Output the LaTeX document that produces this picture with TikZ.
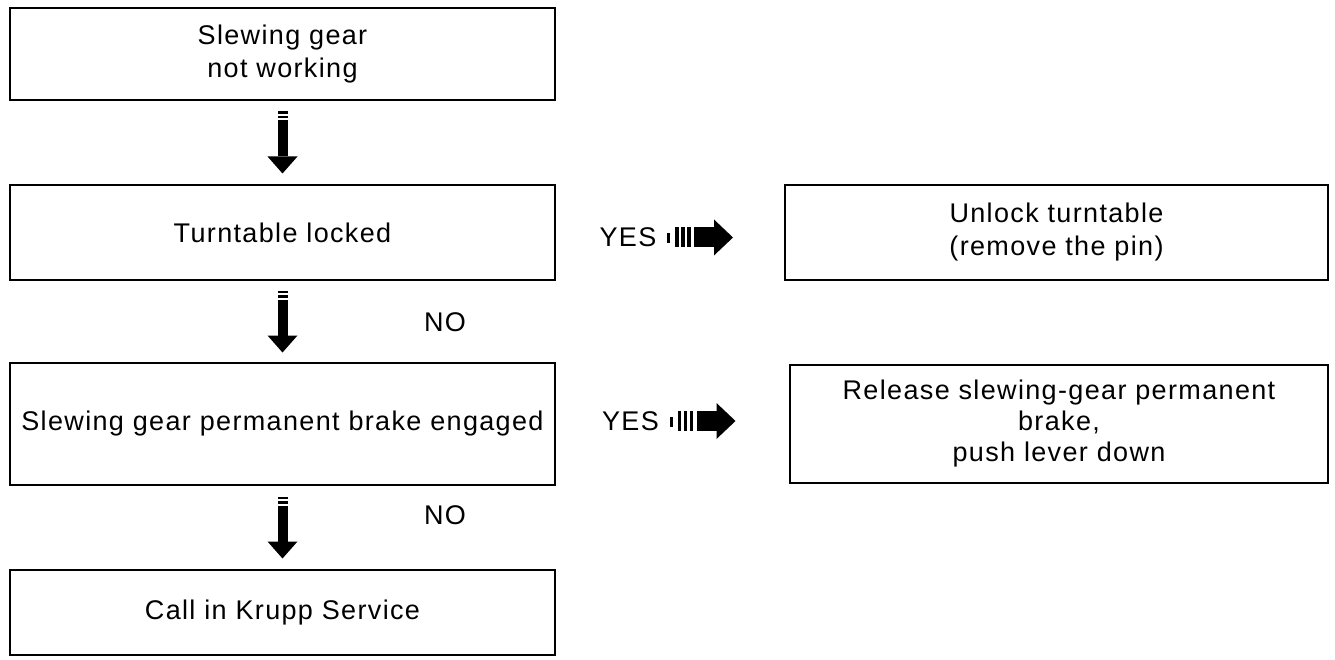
\documentclass[tikz,border=0pt]{standalone}
\usepackage{fontspec}
\setmainfont{Liberation Sans}[LetterSpace=5]
\usetikzlibrary{calc}

% striped block arrow pointing down, centred between two boxes
\newcommand\downblock[2]{%
  \begin{scope}[shift={($(#1.south)!0.5!(#2.north)$)}]
    \fill (-5,-31) rectangle (5,-28.5);
    \fill (-5,-26.5) rectangle (5,-24);
    \fill (-5,-22) rectangle (5,14);
    \fill (-15,14) -- (15,14) -- (0,31) -- cycle;
  \end{scope}}

% "YES" with a striped block arrow pointing right
\newcommand\yesblock[3]{%
  \begin{scope}[shift={($(#1.east)!0.5!(#2.west)+(0,#3)$)}]
    \node[txt] at (-42,0) {YES};
    \fill (-3,-4) rectangle (0,6);
    \foreach \bx in {5,11,17}{\fill (\bx,-10) rectangle (\bx+3.5,10);}
    \fill (24,-10) rectangle (44,10);
    \fill (44,-18) -- (63,0) -- (44,18) -- cycle;
  \end{scope}}

\begin{document}
\begin{tikzpicture}[x=1pt,y=-1pt,
  txt/.style={font=\fontsize{27}{33}\selectfont,align=center,inner sep=0pt},
  box/.style={txt,rectangle,draw=black,line width=1.6pt},
  leftbox/.style={box,minimum width=545pt}]
\useasboundingbox (0,0) rectangle (1335,660);

% left column: the checks
\node[leftbox,minimum height=92pt]  (b1) at (282.5,54)    {Slewing gear\\not working};
\node[leftbox,minimum height=95pt]  (b2) at (282.5,232.5) {Turntable locked};
\node[leftbox,minimum height=122pt] (b3) at (282.5,424)   {Slewing gear permanent brake engaged};
\node[leftbox,minimum height=85pt]  (b4) at (282.5,612.5) {Call in Krupp Service};

% right column: the remedies
\node[box,minimum width=543pt,minimum height=95pt]  (r1) at (1056.5,232.5)
  {Unlock turntable\\(remove the pin)};
\node[box,minimum width=538pt,minimum height=118pt,font=\fontsize{27}{31}\selectfont] (r2) at (1059,424)
  {Release slewing-gear permanent\\brake,\\push lever down};

% connectors
\downblock{b1}{b2}
\downblock{b2}{b3}
\downblock{b3}{b4}
\node[txt] (no1) at (445,322) {NO};
\node[txt] (no2) at (445,515) {NO};
\yesblock{b2}{r1}{5}
\yesblock{b3}{r2}{-3}
\end{tikzpicture}
\end{document}
